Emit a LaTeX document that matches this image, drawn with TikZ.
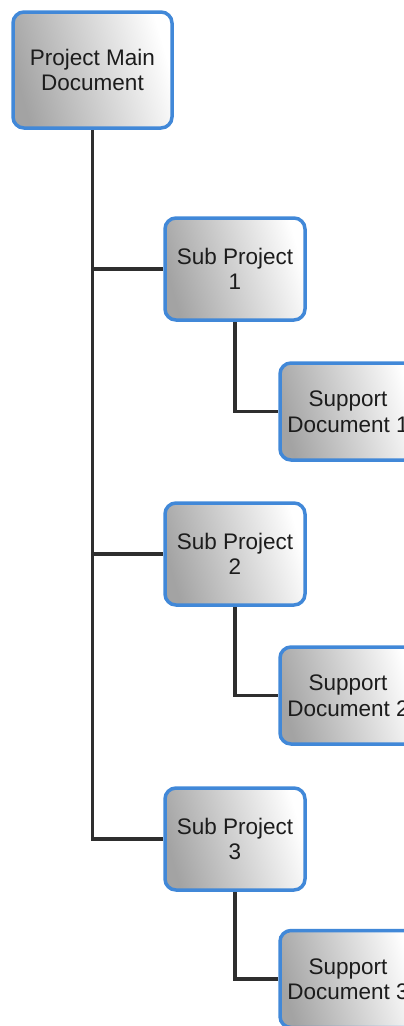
\documentclass[tikz,border=0pt]{standalone}
\usepackage{fontspec}
\setmainfont{Liberation Sans}
\usetikzlibrary{backgrounds}
\definecolor{boxblue}{HTML}{4188D8}
\definecolor{linkgray}{HTML}{2E2E2E}
\definecolor{boxtext}{HTML}{1C1C1C}
\tikzset{
  docbox/.style={draw=boxblue, line width=3.5pt, rounded corners=11pt,
    left color=black!36, right color=white, shading angle=106,
    inner sep=0pt, align=center, text=boxtext,
    font=\fontsize{22.5}{25.5}\selectfont},
  mainbox/.style={docbox, minimum width=159pt, minimum height=116pt},
  subbox/.style={docbox, minimum width=140pt, minimum height=102pt},
  supbox/.style={docbox, minimum width=136pt, minimum height=97pt},
  link/.style={draw=linkgray, line width=3.5pt}
}
\begin{document}
\begin{tikzpicture}[x=1pt, y=-1pt]
  \useasboundingbox (0,0) rectangle (404,1026);

  % project tree
  \node[mainbox] (main) at (92.5,70) {Project Main\\Document};

  \node[subbox] (sub1) at (235,269) {Sub Project\\1};
  \node[subbox] (sub2) at (235,554) {Sub Project\\2};
  \node[subbox] (sub3) at (235,839) {Sub Project\\3};

  \node[supbox] (sup1) at (348,411.5) {Support\\Document 1};
  \node[supbox] (sup2) at (348,695.5) {Support\\Document 2};
  \node[supbox] (sup3) at (348,979) {Support\\Document 3};

  \begin{scope}[on background layer]
    % main trunk and its branches to the sub projects
    \draw[link] (main.south) |- (sub3.west);
    \draw[link] (main.south |- sub1.west) -- (sub1.west);
    \draw[link] (main.south |- sub2.west) -- (sub2.west);
    % each sub project to its support document
    \draw[link] (sub1.south) |- (sup1.west);
    \draw[link] (sub2.south) |- (sup2.west);
    \draw[link] (sub3.south) |- (sup3.west);
  \end{scope}
\end{tikzpicture}
\end{document}
